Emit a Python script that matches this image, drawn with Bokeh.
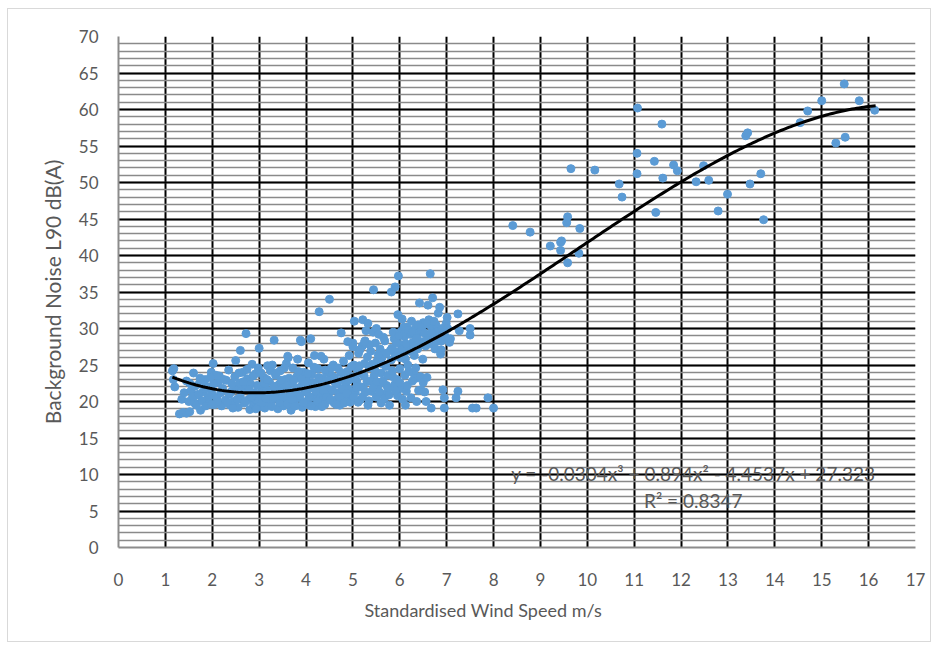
import numpy as np
from bokeh.plotting import figure
from bokeh.models import SingleIntervalTicker, Range1d, Label, Title
from bokeh.embed import file_html
from bokeh.resources import INLINE

# Low wind speed measurements (m/s, dB(A))
wind_low = [
    1.15, 1.17, 1.20, 1.18, 1.30, 1.38, 1.45, 1.52, 1.35, 1.40, 1.45, 1.50, 1.55, 1.60, 1.62, 1.68, 1.72, 1.75, 1.80, 1.85,
    1.90, 1.95, 1.98, 2.02, 2.00, 2.05, 2.10, 2.12, 2.15, 2.20, 2.22, 2.28, 2.30, 2.35, 2.38, 2.40, 2.45, 2.48, 2.50, 2.52,
    2.55, 2.58, 2.60, 2.60, 2.65, 2.68, 2.70, 2.72, 2.75, 2.78, 2.80, 2.82, 2.85, 2.88, 2.90, 2.92, 2.95, 2.98, 3.00, 3.00,
    3.05, 3.08, 3.10, 3.12, 3.15, 3.18, 3.20, 3.22, 3.25, 3.28, 3.30, 3.32, 3.35, 3.38, 3.40, 3.42, 3.45, 3.48, 3.50, 3.52,
    3.55, 3.58, 3.60, 3.62, 3.65, 3.68, 3.70, 3.72, 3.75, 3.78, 3.80, 3.82, 3.85, 3.88, 3.90, 3.92, 3.95, 3.98, 4.00, 4.02,
    4.05, 4.08, 4.10, 4.10, 4.12, 4.15, 4.18, 4.20, 4.22, 4.25, 4.28, 4.30, 4.32, 4.35, 4.38, 4.40, 4.42, 4.45, 4.50, 4.48,
    4.52, 4.55, 4.58, 4.60, 4.62, 4.65, 4.68, 4.70, 4.72, 4.75, 4.78, 4.80, 4.82, 4.85, 4.88, 4.90, 4.92, 4.95, 4.98, 5.00,
    5.02, 5.03, 5.05, 5.08, 5.10, 5.12, 5.15, 5.18, 5.20, 5.21, 5.22, 5.25, 5.28, 5.30, 5.32, 5.32, 5.35, 5.38, 5.40, 5.43,
    5.44, 5.45, 5.48, 5.50, 5.52, 5.55, 5.58, 5.60, 5.60, 5.62, 5.65, 5.68, 5.70, 5.72, 5.75, 5.78, 5.80, 5.82, 5.82, 5.85,
    5.88, 5.89, 5.90, 5.92, 5.95, 5.96, 5.97, 6.00, 6.02, 6.03, 6.03, 6.05, 6.08, 6.10, 6.12, 6.14, 6.15, 6.17, 6.20, 6.22,
    6.24, 6.25, 6.28, 6.31, 6.31, 6.33, 6.35, 6.38, 6.40, 6.42, 6.45, 6.45, 6.48, 6.49, 6.50, 6.53, 6.55, 6.56, 6.60, 6.60,
    6.62, 6.65, 6.67, 6.67, 6.70, 6.72, 6.75, 6.77, 6.80, 6.82, 6.85, 6.87, 6.88, 6.90, 6.92, 6.95, 6.95, 6.99, 7.01, 7.02,
    7.06, 7.08, 7.20, 7.24, 7.24, 7.27, 7.50, 7.50, 7.55, 7.63, 7.88, 8.00,
    2.03, 2.08, 2.12, 2.18, 2.25, 2.32, 2.36, 2.42, 2.44,
    2.53, 2.57, 2.62, 2.66, 2.71, 2.74, 2.79, 2.84, 2.87, 2.93, 2.96,
    3.02, 3.04, 3.07, 3.11, 3.14, 3.17, 3.21, 3.24, 3.27, 3.31, 3.34, 3.37, 3.41, 3.44, 3.47,
    3.51, 3.54, 3.57, 3.61, 3.64, 3.67, 3.71, 3.74, 3.77, 3.81, 3.84, 3.87, 3.91, 3.94, 3.97,
    4.01, 4.04, 4.07, 4.11, 4.14, 4.17, 4.21, 4.24, 4.27, 4.31, 4.34, 4.37, 4.41, 4.44, 4.47,
    4.51, 4.54, 4.57, 4.61, 4.64, 4.67, 4.71, 4.74, 4.77, 4.81, 4.84, 4.87, 4.91, 4.94, 4.97,
    5.01, 5.04, 5.07, 5.11, 5.14, 5.17, 5.21, 5.24, 5.27, 5.31, 5.34, 5.37, 5.41, 5.44, 5.47,
    5.51, 5.54, 5.57, 5.61, 5.64, 5.67, 5.71, 5.74, 5.77,
    1.52, 1.58, 1.63, 1.66, 1.71, 1.74, 1.78, 1.83, 1.86, 1.88, 1.93, 1.96, 1.99,
    5.83, 5.86, 5.90, 5.93, 5.98, 6.01, 6.06, 6.09, 6.13, 6.18, 6.21, 6.26, 6.29, 6.36, 6.39, 6.43,
    6.47, 6.52, 6.57, 6.58, 6.63, 6.68, 6.73, 6.78, 6.84, 6.89, 6.93, 6.97,
    5.84, 5.91, 5.94, 6.00, 6.06, 6.11, 6.16, 6.19, 6.27, 6.34, 6.40, 6.44, 6.50, 6.58, 6.36, 6.12,
    5.15, 5.26, 5.35, 5.50, 5.55, 5.65, 4.89, 5.00, 5.25, 4.32, 3.61, 3.90,
]
noise_low = [
    24.2, 23.0, 22.0, 24.5, 18.3, 18.5, 18.4, 18.6, 20.3, 21.2, 22.8, 20.0, 21.5, 23.9, 19.8, 20.9, 22.4, 18.8, 21.3, 23.0,
    20.4, 22.0, 24.0, 25.2, 21.0, 19.6, 20.5, 22.6, 23.5, 19.4, 21.8, 20.2, 22.9, 24.3, 19.5, 21.3, 20.0, 23.4, 25.6, 21.7,
    19.2, 22.5, 27.0, 20.6, 24.0, 19.8, 21.9, 29.3, 23.1, 20.3, 18.9, 22.4, 25.1, 19.6, 21.2, 23.8, 20.1, 24.6, 27.3, 19.3,
    22.0, 20.7, 23.3, 19.1, 21.6, 24.9, 20.2, 22.7, 19.7, 25.0, 21.1, 28.4, 23.6, 20.4, 19.0, 22.3, 24.2, 20.9, 21.8, 19.4,
    23.0, 25.2, 20.3, 26.0, 21.5, 18.8, 22.6, 24.6, 19.9, 21.0, 23.4, 25.8, 20.5, 28.4, 22.1, 19.2, 24.0, 21.4, 20.0, 22.8,
    25.3, 19.5, 28.6, 21.9, 23.7, 20.6, 26.3, 19.3, 22.4, 24.5, 32.3, 21.0, 20.1, 23.2, 25.8, 19.6, 22.0, 24.0, 34.0, 20.7,
    21.6, 23.5, 25.0, 19.8, 22.6, 20.3, 24.6, 21.2, 19.5, 29.4, 23.0, 25.5, 20.8, 22.2, 24.1, 21.7, 26.3, 20.5, 23.4, 28.0,
    25.0, 31.0, 21.3, 22.8, 24.3, 26.6, 20.2, 23.8, 27.6, 31.2, 21.9, 25.2, 29.7, 22.7, 30.7, 19.5, 24.6, 26.9, 21.4, 29.5,
    35.3, 23.5, 28.0, 20.6, 25.6, 22.3, 27.2, 23.9, 19.8, 26.0, 21.0, 28.3, 24.8, 22.2, 21.8, 19.5, 27.0, 35.0, 25.7, 23.4,
    28.6, 22.3, 35.7, 26.8, 20.8, 31.9, 37.2, 24.5, 27.8, 29.6, 21.8, 31.3, 26.4, 28.9, 19.5, 21.4, 30.2, 25.0, 27.4, 29.2,
    20.5, 31.0, 28.1, 26.3, 23.7, 30.0, 23.2, 27.2, 29.4, 33.5, 21.6, 29.8, 28.2, 25.8, 30.8, 21.3, 27.6, 20.0, 33.2, 29.0,
    31.2, 37.5, 30.3, 19.1, 34.2, 28.6, 27.2, 30.5, 29.6, 32.1, 32.9, 26.5, 27.1, 30.0, 21.6, 20.5, 19.1, 30.7, 31.5, 30.0,
    28.1, 28.6, 20.5, 21.4, 32.0, 29.7, 30.0, 29.1, 19.1, 19.1, 20.5, 19.1,
    22.4, 23.6, 20.0, 21.2, 23.0, 19.9, 21.0, 22.4, 19.1,
    20.3, 23.9, 21.4, 22.7, 20.0, 24.4, 21.6, 20.6, 23.5, 19.0, 22.2,
    21.0, 23.9, 19.8, 22.5, 20.4, 23.0, 21.3, 24.2, 19.3, 22.1, 20.5, 23.9, 21.4, 19.8, 22.9,
    20.6, 24.6, 22.0, 19.7, 23.2, 21.1, 20.2, 22.9, 19.4, 21.8, 24.1, 20.8, 23.0, 19.8, 22.4,
    21.3, 23.8, 20.7, 19.4, 22.6, 24.7, 21.4, 20.0, 23.3, 22.1, 19.3, 21.5, 24.3, 20.6, 22.9,
    20.2, 24.6, 21.5, 23.3, 19.6, 22.4, 20.6, 24.0, 21.7, 19.8, 23.6, 21.1, 22.9, 19.9, 24.8,
    20.6, 23.1, 21.9, 19.9, 24.9, 22.0, 20.7, 23.5, 21.3, 26.1, 20.1, 22.8, 25.1, 21.9, 24.3,
    22.7, 26.4, 21.3, 25.2, 22.8, 20.4, 26.6, 23.6, 20.9,
    22.5, 20.7, 22.1, 19.5, 21.0, 23.2, 20.1, 22.3, 19.4, 21.7, 20.6, 23.3, 19.6,
    27.3, 29.5, 26.2, 28.0, 29.0, 26.0, 27.1, 30.2, 27.9, 29.8, 26.9, 29.5, 27.6, 28.7, 30.5, 27.8,
    30.2, 29.4, 28.4, 30.6, 27.9, 29.4, 31.0, 28.2, 29.1, 28.3, 29.4, 28.9,
    24.2, 21.5, 23.0, 22.6, 20.3, 23.6, 22.2, 24.1, 22.8, 24.6, 21.5, 23.4, 22.6, 23.3, 20.0, 25.8,
    27.1, 28.3, 27.8, 30.0, 29.2, 28.8, 28.2, 27.5, 28.2, 26.2, 26.2, 28.2,
]

# High wind speed measurements (m/s, dB(A))
wind_high = [
    8.41, 8.78, 9.21, 9.43, 9.43, 9.45, 9.56, 9.58, 9.58, 9.82, 9.84, 9.65, 10.16, 10.68, 10.74,
    11.06, 11.06, 11.07, 11.59, 11.43, 11.61, 11.46, 11.84, 11.92, 12.32, 12.48, 12.59, 12.99, 12.79,
    13.38, 13.42, 13.47, 13.70, 13.76, 14.54, 14.70, 15.00, 15.48, 15.80, 16.13, 15.30, 15.50,
]
noise_high = [
    44.1, 43.2, 41.3, 41.8, 40.7, 42.0, 44.5, 45.3, 39.0, 40.3, 43.7, 51.9, 51.7, 49.8, 48.0,
    54.0, 51.2, 60.2, 58.0, 52.9, 50.6, 45.9, 52.4, 51.6, 50.1, 52.3, 50.3, 48.4, 46.1,
    56.4, 56.8, 49.8, 51.2, 44.9, 58.2, 59.8, 61.2, 63.5, 61.2, 59.9, 55.4, 56.2,
]

# Cubic trendline coefficients and fit statistic
poly_coef = [-0.0304, 0.894, -4.4537, 27.323]
r_squared = 0.8347
trend_x_start, trend_x_end = 1.15, 16.15

FONT = "Lato"
TEXT_GREY = "#595959"

p = figure(
    width=924, height=634,
    x_range=Range1d(0, 17), y_range=Range1d(0, 70),
    output_backend="svg", toolbar_location=None,
    min_border_left=110, min_border_right=17, min_border_top=27, min_border_bottom=96,
    margin=(8, 0, 0, 7),
)
p.styles = {"border": "1px solid #d9d9d9"}
p.outline_line_color = None
p.background_fill_color = "white"
p.border_fill_color = "white"

# Axes
p.xaxis.ticker = SingleIntervalTicker(interval=1, num_minor_ticks=0)
p.yaxis.ticker = SingleIntervalTicker(interval=5, num_minor_ticks=5)
for ax in (p.xaxis[0], p.yaxis[0]):
    ax.axis_line_color = "#8c8c8c"
    ax.axis_line_width = 2
    ax.major_tick_line_color = None
    ax.minor_tick_line_color = None
    ax.major_label_text_font = FONT
    ax.major_label_text_font_size = "17px"
    ax.major_label_text_color = TEXT_GREY
    ax.axis_label_text_font = FONT
    ax.axis_label_text_font_style = "normal"
    ax.axis_label_text_color = TEXT_GREY

p.xaxis.major_label_standoff = 19
p.yaxis.axis_label = "Background Noise L90 dB(A)"
p.yaxis.axis_label_text_font_size = "21px"
p.yaxis.major_label_standoff = 14
p.yaxis.axis_label_standoff = 11

# X axis title, set a little left of the plot centre
x_title = Title(text="Standardised Wind Speed m/s", align="left", offset=246,
                text_font=FONT, text_font_size="18px", text_font_style="normal",
                text_color=TEXT_GREY, standoff=16)
p.add_layout(x_title, "below")

# Gridlines: black every 1 m/s and every 5 dB, grey every 1 dB
p.xgrid.ticker = SingleIntervalTicker(interval=1, num_minor_ticks=0)
p.xgrid.bounds = (1, 17)
p.xgrid.grid_line_color = "black"
p.xgrid.grid_line_width = 2
p.ygrid.ticker = SingleIntervalTicker(interval=5, num_minor_ticks=5)
p.ygrid.bounds = (0.5, 70)
p.ygrid.grid_line_color = "black"
p.ygrid.grid_line_width = 2
p.ygrid.minor_grid_line_color = "#8a8a8a"
p.ygrid.minor_grid_line_width = 1.6

# Measurements
p.scatter(wind_low + wind_high, noise_low + noise_high, size=8,
          fill_color="#5b9bd5", line_color="#5b9bd5")

# Trendline
tx = np.linspace(trend_x_start, trend_x_end, 300)
ty = np.polyval(poly_coef, tx)
p.line(tx, ty, line_color="black", line_width=3)

eq_text = "y = -0.0304x³ + 0.894x² - 4.4537x + 27.323"
p.add_layout(Label(x=12.26, y=10.1, text=eq_text, text_align="center", text_baseline="middle",
                   text_font=FONT, text_font_size="19px", text_color=TEXT_GREY))
p.add_layout(Label(x=12.26, y=6.5, text=f"R² = {r_squared}", text_align="center",
                   text_baseline="middle", text_font=FONT, text_font_size="19px",
                   text_color=TEXT_GREY))

open("out.html", "w").write(file_html(p, INLINE))
